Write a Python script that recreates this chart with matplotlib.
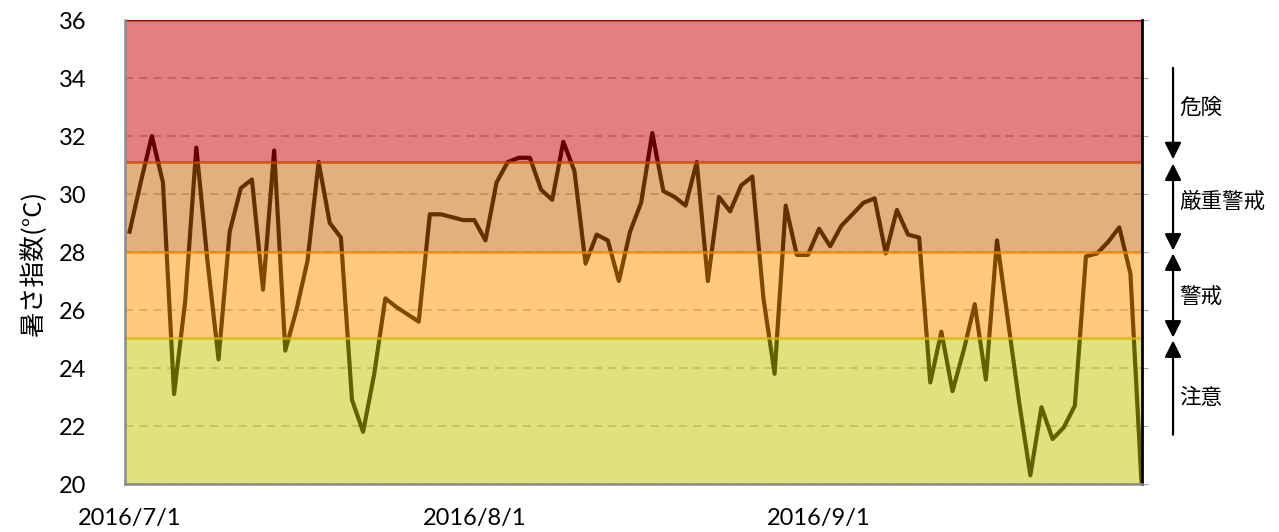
import matplotlib
matplotlib.use("Agg")
import matplotlib.pyplot as plt
import matplotlib.dates as mdates
from matplotlib.ticker import FuncFormatter
import pandas as pd

plt.rcParams["font.family"] = ["Lato", "Noto Sans CJK JP", "DejaVu Sans"]

# daily WBGT values, 2016/7/1 .. 2016/9/30
wbgt = [
    28.7, 30.4, 32.0, 30.4, 23.1, 26.3, 31.6, 27.7, 24.3, 28.7,
    30.2, 30.5, 26.7, 31.5, 24.6, 26.0, 27.7, 31.1, 29.0, 28.5,
    22.9, 21.8, 23.8, 26.4, 26.1, 25.85, 25.6, 29.3, 29.3, 29.2,
    29.1, 29.1, 28.4, 30.4, 31.1, 31.25, 31.25, 30.15, 29.8, 31.8,
    30.8, 27.6, 28.6, 28.4, 27.0, 28.7, 29.7, 32.1, 30.1, 29.9,
    29.6, 31.1, 27.0, 29.9, 29.4, 30.3, 30.6, 26.4, 23.8, 29.6,
    27.9, 27.9, 28.8, 28.2, 28.9, 29.3, 29.7, 29.85, 27.95, 29.45,
    28.6, 28.5, 23.5, 25.25, 23.2, 24.6, 26.2, 23.6, 28.4, 25.6,
    22.8, 20.3, 22.65, 21.55, 21.95, 22.7, 27.85, 27.95, 28.35, 28.85,
    27.25, 20.0,
]
dates = pd.date_range("2016-07-01", periods=len(wbgt), freq="D")

# level bands (top to bottom)
band_lo = [31.1, 28.0, 25.05, 20]
band_hi = [36, 31.1, 28.0, 25.05]
band_colors = ["#C70000", "#C96100", "#FF9500", "#C5C700"]
band_names = ["危険", "厳重警戒", "警戒", "注意"]

fig = plt.figure(figsize=(12.79, 5.32), dpi=100)
ax = fig.add_axes([0.0977, 0.0902, 0.7952, 0.8722])

ax.plot(dates, wbgt, color="black", linewidth=3.0, zorder=1, solid_joinstyle="round")

for lo, hi, c in zip(band_lo, band_hi, band_colors):
    ax.fill_between([dates[0] - pd.Timedelta(days=1), dates[-1] + pd.Timedelta(days=1)],
                    lo, hi, facecolor=c, edgecolor=c, linewidth=2, alpha=0.5, zorder=2)
ax.axhline(band_hi[0], color="#8B0A0A", linewidth=1.5, zorder=2.2)

ax.set_ylim(20, 36)
ax.set_yticks(range(20, 37, 2))
ax.set_xlim(dates[0] - pd.Timedelta(hours=10), dates[-1] + pd.Timedelta(hours=1))
ax.xaxis.set_major_locator(mdates.MonthLocator())
ax.xaxis.set_major_formatter(FuncFormatter(
    lambda v, p: "{0.year}/{0.month}/{0.day}".format(mdates.num2date(v))))

ax.yaxis.grid(True, color="#B4B4B4", linewidth=1.1, linestyle=(0, (5.3, 4)))
ax.set_axisbelow(True)

ax.tick_params(axis="y", left=False, right=True, labelleft=True, labelright=False,
               direction="out", length=4, color="#A0A0A0", labelsize=17, pad=24)
ax.tick_params(axis="x", bottom=False, labelsize=17, pad=14)

for s in ["left", "bottom"]:
    ax.spines[s].set_color("#8C8C8C")
    ax.spines[s].set_linewidth(1.8)
ax.spines["right"].set_color("black")
ax.spines["right"].set_linewidth(2)
ax.spines["top"].set_visible(False)

ax.set_ylabel("暑さ指数(°C)", fontsize=18.5, family=["Noto Sans CJK JP"])
ax.yaxis.set_label_coords(-0.0767, 0.475)

# level arrows on the right
tr = ax.get_yaxis_transform()
ax_x = 1.0305
arrow_ends = [(34.35, 31.2, "-|>"), (28.05, 31.05, "<|-|>"),
              (25.05, 27.95, "<|-|>"), (21.7, 24.95, "-|>")]
label_y = [32.97, 29.72, 26.45, 22.97]
for (y0, y1, style), name, ty in zip(arrow_ends, band_names, label_y):
    ax.annotate("", xy=(ax_x, y1), xytext=(ax_x, y0), xycoords=tr, textcoords=tr,
                arrowprops=dict(arrowstyle=style + ",head_length=0.5,head_width=0.25",
                                color="black", lw=1.6, shrinkA=0, shrinkB=0,
                                mutation_scale=20),
                annotation_clip=False)
    ax.text(ax_x + 0.006, ty, name, transform=tr, fontsize=15.5, ha="left", va="center",
            family=["Noto Sans CJK JP"])

fig.savefig("out.png", dpi=100)
